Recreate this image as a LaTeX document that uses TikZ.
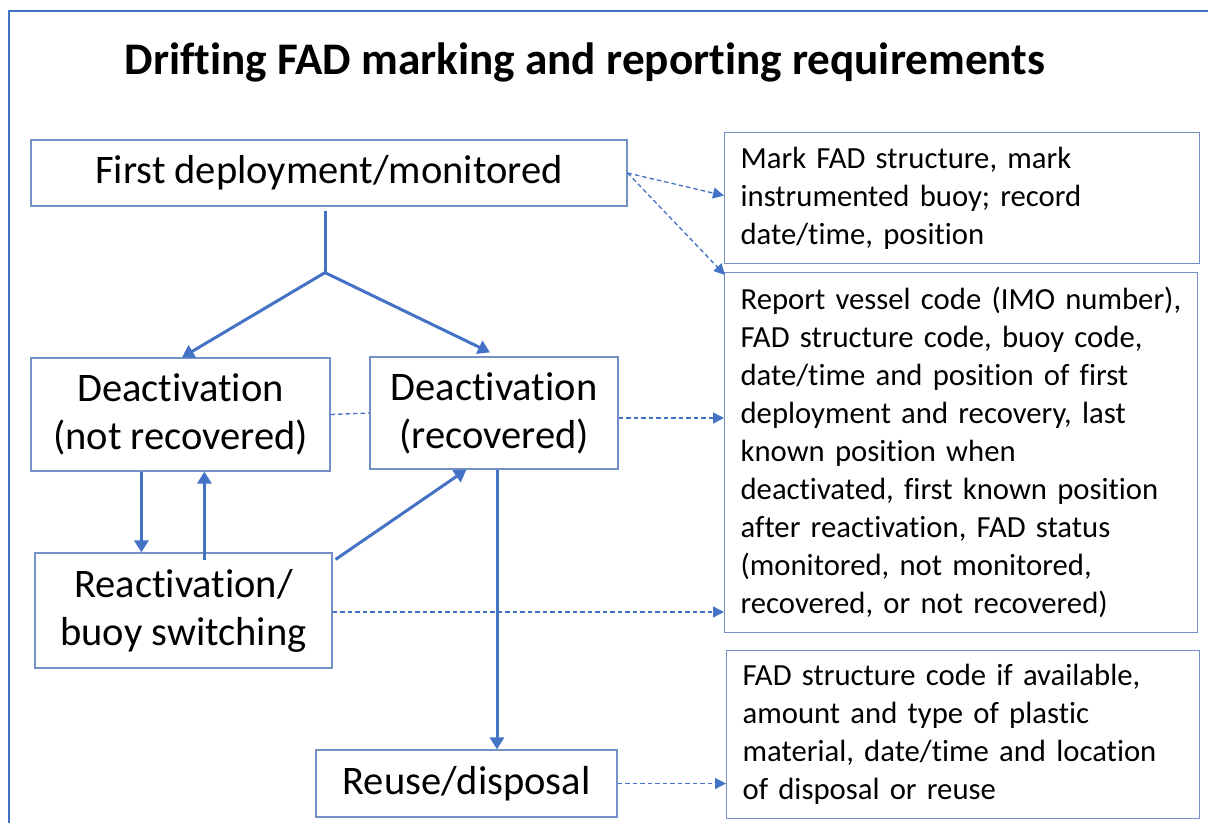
\documentclass[tikz,border=0pt]{standalone}
\usepackage{fontspec}
\setmainfont{Carlito}[Ligatures=NoCommon]
\usetikzlibrary{arrows.meta}
\definecolor{arrowblue}{HTML}{4472C4}
\definecolor{boxblue}{HTML}{7391C6}
\tikzset{
  box/.style={draw=boxblue, line width=1.2pt, inner sep=0pt, align=center,
    font=\fontsize{40.5}{48}\selectfont},
  note/.style={draw=boxblue, line width=1.2pt, anchor=north west, align=left,
    inner xsep=16pt, inner ysep=0pt, font=\fontsize{30.7}{38}\selectfont},
  flow/.style={draw=arrowblue, line width=3pt, -{Triangle[length=12pt,width=14pt]}},
  link/.style={draw=arrowblue, line width=1.3pt, dash pattern=on 4.5pt off 3pt,
    -{Triangle[length=11pt,width=11pt]}},
  plainlink/.style={draw=arrowblue, line width=1.3pt, dash pattern=on 4.5pt off 3pt},
}
\begin{document}
\begin{tikzpicture}[x=1pt,y=-1pt]
\useasboundingbox (0,0) rectangle (1208,823);

% frame
\draw[arrowblue, line width=2pt] (9,823) -- (9,11) -- (1208,11);

% title
\node[anchor=base, font=\bfseries\fontsize{45.2}{52}\selectfont] (title) at (585,74)
  {Drifting FAD marking and reporting requirements};

% life-cycle stages
\node[box, minimum width=596pt, minimum height=66pt] (first) at (329,173)
  {First deployment/monitored};
\node[box, minimum width=299pt, minimum height=113pt] (deact1) at (180.5,414.5)
  {Deactivation\\(not recovered)};
\node[box, minimum width=248pt, minimum height=112pt] (deact2) at (494,413)
  {Deactivation\\(recovered)};
\node[box, minimum width=297pt, minimum height=115pt] (react) at (183.5,610.5)
  {Reactivation/\\buoy switching};
\node[box, minimum width=301pt, minimum height=67pt] (reuse) at (466.5,783.5)
  {Reuse/disposal};

% requirement notes (each printed line kept whole)
\node[note, text width=443pt, minimum height=131pt] (mark) at (724,132)
  {Mark FAD structure, mark\\instrumented buoy; record\\date/time, position};
\node[note, text width=441pt, minimum height=360pt] (report) at (724,272)
  {\mbox{Report vessel code (IMO number),}\\FAD structure code, buoy code,\\date/time and position of first\\deployment and recovery, last\\known position when\\\mbox{deactivated, first known position}\\after reactivation, FAD status\\(monitored, not monitored,\\recovered, or not recovered)};
\node[note, text width=441pt, minimum height=168pt] (fad) at (726,650)
  {FAD structure code if available,\\amount and type of plastic\\\mbox{material, date/time and location}\\of disposal or reuse};

% stage transitions (yshift is in page direction: negative moves down)
\coordinate (fork) at ([yshift=-66pt,xshift=-4pt]first.south);
\draw[arrowblue, line width=3pt] ([yshift=-4pt,xshift=-4pt]first.south) -- (fork);
\draw[flow] (fork) -- ([xshift=1.5pt]deact1.north);
\draw[flow] (fork) -- ([xshift=-4pt,yshift=4pt]deact2.north);
\draw[flow] ([xshift=111pt]deact1.south west) -- ([xshift=111pt]deact1.south west |- react.north);
\draw[flow] ([xshift=170pt,yshift=-8pt]react.north west) -- ([xshift=174pt]deact1.south west);
\draw[flow] ([xshift=3pt,yshift=-7pt]react.north east) -- ([xshift=97pt]deact2.south west);
\draw[flow] ([xshift=3pt]deact2.south) -- ([xshift=3pt]deact2.south |- reuse.north);

% reporting links
\draw[link] (first.east) -- ([yshift=2.5pt]mark.west);
\draw[link] (first.east) -- ([xshift=1pt,yshift=-3pt]report.north west);
\draw[plainlink] (deact1.east) -- (deact2.west);
\draw[link] ([yshift=-5pt]deact2.east) -- ([yshift=-5pt]deact2.east -| report.west);
\draw[link] ([yshift=-1.5pt]react.east) -- ([yshift=-1.5pt]react.east -| report.west);
\draw[link] (reuse.east) -- (reuse.east -| fad.west);
\end{tikzpicture}
\end{document}
